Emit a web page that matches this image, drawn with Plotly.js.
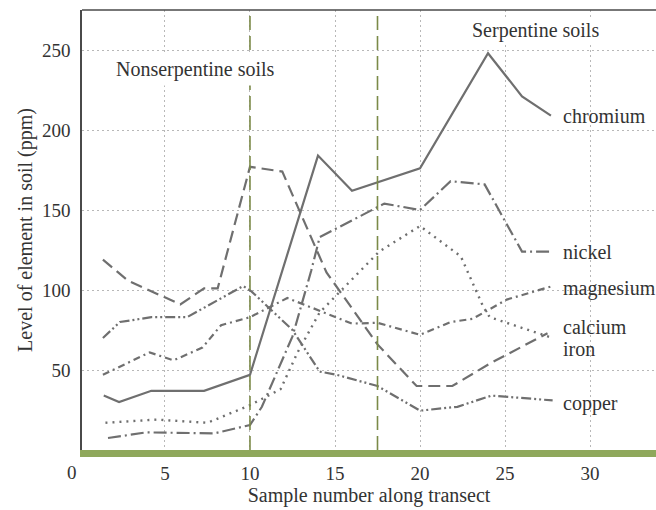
<!DOCTYPE html>
<html>
<head>
<meta charset="utf-8">
<script src="https://cdn.plot.ly/plotly-3.0.1.min.js"></script>
<style>html,body{margin:0;padding:0;background:#fff;}#chart{width:656px;height:510px;}</style>
</head>
<body>
<div id="chart"></div>
<script>
// Sample positions and element levels (ppm)
const chromiumX = [1.4, 2.3, 4.2, 7.3, 10, 14, 16, 20, 24, 26, 27.7];
const chromiumY = [34, 30, 37, 37, 47, 184, 162, 176, 248, 221, 209];

const ironX = [1.35, 2.8, 5.9, 7.3, 8.1, 10, 11.9, 14.5, 17.5, 19.8, 21.9, 24.1, 27.5];
const ironY = [119, 106, 91, 101, 101, 177, 174, 111, 66, 40, 40, 54, 73];

const nickelX = [1.65, 3.9, 7.9, 10, 10.7, 12.5, 13.6, 14.1, 17.9, 20, 21.8, 23.8, 26, 27.8];
const nickelY = [7.5, 11, 10.4, 15.6, 27, 71, 112, 133, 154, 150, 168, 166, 124, 124];

const magnesiumX = [1.35, 4.1, 5.5, 7.2, 8.3, 10, 12.2, 16, 17.5, 20, 21.8, 23.1, 25.1, 27.8];
const magnesiumY = [47, 61, 56, 64, 78, 83, 95, 79, 79.5, 72, 80, 82, 94, 102.5];

const copperX = [1.35, 2.35, 4.2, 6.3, 9.6, 10.1, 12.5, 14.1, 15.1, 17.5, 20, 22.2, 24.2, 27.8];
const copperY = [70, 80, 83, 83, 102.5, 99, 75, 49, 47, 40, 24.6, 27, 34, 31];

const calciumX = [1.5, 4.5, 7.5, 10, 11.8, 12.8, 14.1, 17.6, 20, 22.4, 23.7, 24.1, 27.8];
const calciumY = [17, 19, 17, 28, 38, 61, 86, 124, 140, 121, 90, 83, 70];

const xTicks = [5, 10, 15, 20, 25, 30];
const yTicks = [50, 100, 150, 200, 250];
const boundaries = [10, 17.5];

const seriesNames = ['chromium', 'nickel', 'magnesium', 'calcium', 'iron', 'copper'];
const labelY = [209, 124, 101, 77, 63, 29];

const lineColor = '#6f6f6f';
const font = "'Liberation Serif', 'Times New Roman', serif";

function tr(x, y, dash, w) {
  return {x: x, y: y, type: 'scatter', mode: 'lines',
    line: {color: lineColor, width: w || 2.2, dash: dash}, hoverinfo: 'skip'};
}

const data = [
  tr(chromiumX, chromiumY, 'solid'),
  tr(ironX, ironY, '12px,6px'),
  tr(nickelX, nickelY, '13px,4px,2px,4px'),
  tr(magnesiumX, magnesiumY, '7px,4px,2px,4px'),
  tr(copperX, copperY, '10px,3px,2px,3px,2px,3px'),
  tr(calciumX, calciumY, '2px,5px', 2.4)
];

const shapes = boundaries.map(b => ({
  type: 'line', xref: 'x', yref: 'paper', x0: b, x1: b, y0: 0, y1: 1,
  line: {color: '#7b8a48', width: 1.6, dash: '14px,6px'}
}));
shapes.push({type: 'line', xref: 'paper', yref: 'paper', x0: 0, x1: 1, y0: 1, y1: 1,
  line: {color: '#4a4a4a', width: 1.6}});

const annotations = seriesNames.map((n, i) => ({
  text: n, x: 28.3, y: labelY[i], xref: 'x', yref: 'y', xanchor: 'left', yanchor: 'middle',
  showarrow: false, font: {family: font, size: 20, color: '#333'}
}));
annotations.push({text: 'Nonserpentine soils', x: 6.8, y: 238, xref: 'x', yref: 'y',
  showarrow: false, font: {family: font, size: 20, color: '#333'}, bgcolor: '#fff', borderpad: 4});
annotations.push({text: 'Serpentine soils', x: 26.8, y: 262.5, xref: 'x', yref: 'y',
  showarrow: false, font: {family: font, size: 20, color: '#333'}, bgcolor: '#fff'});
annotations.push({text: '0', x: -0.017, y: -0.05, xref: 'paper', yref: 'paper',
  xanchor: 'center', yanchor: 'middle', showarrow: false,
  font: {family: font, size: 19, color: '#333'}});

const layout = {
  width: 656, height: 510,
  margin: {l: 82, r: 0, t: 10, b: 60},
  paper_bgcolor: '#fff', plot_bgcolor: '#fff',
  showlegend: false,
  font: {family: font, color: '#333'},
  xaxis: {
    range: [0.12, 33.88], tickvals: xTicks, ticktext: xTicks.map(String),
    showgrid: true, gridcolor: '#b8b8b8', griddash: '2px,3px', gridwidth: 1,
    zeroline: false, showline: true, linecolor: '#8fa85c', linewidth: 7,
    ticks: '',
    tickfont: {family: font, size: 19, color: '#333'},
    title: {text: 'Sample number along transect', font: {family: font, size: 20, color: '#333'}, standoff: 8}
  },
  yaxis: {
    range: [0, 275], tickvals: yTicks, ticktext: yTicks.map(String),
    showgrid: true, gridcolor: '#b8b8b8', griddash: '2px,3px', gridwidth: 1,
    zeroline: false, showline: true, linecolor: '#4a4a4a', linewidth: 1.6,
    ticks: 'outside', ticklen: 6, tickcolor: 'rgba(0,0,0,0)',
    tickfont: {family: font, size: 19, color: '#333'},
    title: {text: 'Level of element in soil (ppm)', font: {family: font, size: 20, color: '#333'}, standoff: 4}
  },
  shapes: shapes,
  annotations: annotations
};

Plotly.newPlot('chart', data, layout, {displayModeBar: false, staticPlot: true});
</script>
</body>
</html>
